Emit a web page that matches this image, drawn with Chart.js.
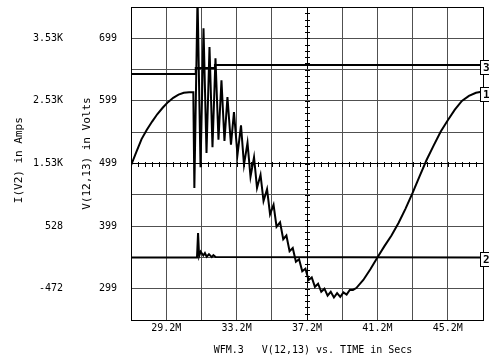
<!DOCTYPE html>
<html>
<head>
<meta charset="utf-8">
<script src="https://cdn.jsdelivr.net/npm/chart.js@4.4.1/dist/chart.umd.min.js"></script>
<style>
  html, body { margin: 0; padding: 0; background: #fff; }
  canvas { display: block; }
</style>
</head>
<body>
<canvas id="wfm" width="489" height="356"></canvas>
<script>
// ===== values (time in M, V(12,13) in Volts) =====
// trace 1: sine-like waveform with a ringing burst near 31M
const trace1Time = [
  27.2, 27.5, 27.8, 28.1, 28.4, 28.7, 29.0, 29.3, 29.6, 29.9, 30.2, 30.5, 30.74,
  30.80, 30.98, 31.15, 31.32, 31.49, 31.66, 31.83, 32.00, 32.17, 32.34,
  32.51, 32.68, 32.88, 33.05, 33.25, 33.45, 33.62, 33.82, 33.99, 34.19,
  34.36, 34.56, 34.73, 34.93, 35.10, 35.30, 35.47, 35.67,
  35.85, 36.03, 36.21, 36.39, 36.57, 36.75, 36.93, 37.11, 37.29, 37.47,
  37.65, 37.83, 38.01, 38.19, 38.37, 38.55, 38.73, 38.91, 39.09, 39.27,
  39.45, 39.63, 39.81,
  40.0, 40.4, 40.8, 41.2, 41.6, 42.0, 42.4, 42.8, 43.2, 43.6,
  44.0, 44.4, 44.8, 45.2, 45.6, 46.0, 46.4, 46.8, 47.2
];
const trace1Volts = [
  496, 517, 538, 553, 566, 578, 588, 597, 604, 609, 612, 613, 613,
  460, 765, 493, 715, 516, 685, 525, 667, 537, 632,
  535, 605, 529, 581, 513, 560, 497, 532, 478, 509,
  460, 481, 439, 458, 418, 433, 398, 405,
  378, 384, 359, 364, 342, 346, 327, 331, 313, 317,
  302, 307, 294, 299, 288, 294, 285, 292, 286, 293,
  289.5, 297, 297,
  300, 313, 330, 349, 367, 384, 404, 427, 452, 479,
  505, 528, 550, 568, 585, 599, 607, 612, 614
];

// trace 2: flat level with a short spike
const trace2Time = [27.2, 30.95, 31.01, 31.07, 31.16, 31.31, 31.40, 31.50, 31.63, 31.79, 31.88, 32.01, 47.2];
const trace2Volts = [349, 349, 388, 351, 358, 352, 356, 350, 354, 349.5, 352.5, 349.5, 349];

// trace 3: two small steps
const trace3Time = [27.2, 30.88, 30.88, 31.97, 31.97, 47.2];
const trace3Volts = [642, 642, 651.5, 651.5, 656.5, 656.5];

// axes
const xGrid = [27.2, 29.2, 31.2, 33.2, 35.2, 37.2, 39.2, 41.2, 43.2, 45.2, 47.2];
const xLabelled = [29.2, 33.2, 37.2, 41.2, 45.2];
const voltGrid = [249, 299, 349, 399, 449, 499, 549, 599, 649, 699, 749];
const voltLabelled = [299, 399, 499, 599, 699];
const ampTicks = [-472, 528, 1528, 2528, 3528];
const ampLabels = ['-472', '528', '1.53K', '2.53K', '3.53K'];

const toPoints = (ts, vs) => ts.map((t, i) => ({ x: t, y: vs[i] }));

const FONT = 'DejaVu Sans Mono';
Chart.defaults.font.family = FONT;
Chart.defaults.font.size = 10;
Chart.defaults.color = '#000';

const gridColor = ctx => {
  const v = ctx.tick ? ctx.tick.value : null;
  return (v === 499 || v === 249 || v === 749 || v === 37.2 || v === 27.2 || v === 47.2) ? '#000' : '#505050';
};

// fixed axis widths, no extra label padding above/below the plot
const fixWidth = w => s => { s.width = w; s.paddingTop = 0; s.paddingBottom = 0; };

// minor tick marks on the centre cross-hair (37.2M / 499V)
const crossTicks = {
  id: 'crossTicks',
  beforeDatasetsDraw(chart) {
    const { ctx, scales: { x, y } } = chart;
    const y0 = Math.round(y.getPixelForValue(499));
    const x0 = Math.round(x.getPixelForValue(37.2));
    ctx.save();
    ctx.strokeStyle = '#000';
    ctx.lineWidth = 1;
    ctx.beginPath();
    for (let i = 0; i <= 50; i++) {
      const px = Math.round(x.getPixelForValue(27.2 + i * 0.4)) + 0.5;
      ctx.moveTo(px, y0 - 2);
      ctx.lineTo(px, y0 + 3);
    }
    for (let i = 0; i <= 50; i++) {
      const py = Math.round(y.getPixelForValue(249 + i * 10)) + 0.5;
      ctx.moveTo(x0 - 2, py);
      ctx.lineTo(x0 + 3, py);
    }
    ctx.stroke();
    ctx.restore();
  }
};

// numbered tags at the right end of each trace
const traceTags = {
  id: 'traceTags',
  afterDatasetsDraw(chart) {
    const { ctx, chartArea, scales: { y } } = chart;
    chart.data.datasets.forEach(ds => {
      const last = ds.data[ds.data.length - 1];
      const py = Math.round(y.getPixelForValue(last.y)) + 2;
      const bx = chartArea.right - 3;
      ctx.save();
      ctx.fillStyle = '#fff';
      ctx.fillRect(bx, py - 7, 14, 14);
      ctx.strokeStyle = '#000';
      ctx.lineWidth = 1;
      ctx.strokeRect(bx + 0.5, py - 7 + 0.5, 14, 14);
      ctx.fillStyle = '#000';
      ctx.font = 'bold 11px "' + FONT + '"';
      ctx.textAlign = 'left';
      ctx.textBaseline = 'middle';
      ctx.fillText(ds.label, bx + 3, py + 1);
      ctx.restore();
    });
  }
};

new Chart(document.getElementById('wfm'), {
  type: 'line',
  data: {
    datasets: [
      { label: '1', data: toPoints(trace1Time, trace1Volts) },
      { label: '2', data: toPoints(trace2Time, trace2Volts) },
      { label: '3', data: toPoints(trace3Time, trace3Volts) }
    ]
  },
  options: {
    responsive: false,
    animation: false,
    events: [],
    layout: { padding: { top: 7, right: 6, bottom: 0, left: 0 } },
    plugins: { legend: { display: false }, tooltip: { enabled: false } },
    elements: {
      point: { radius: 0 },
      line: { tension: 0, borderWidth: 2, borderColor: '#000', fill: false }
    },
    scales: {
      x: {
        type: 'linear',
        min: 27.2,
        max: 47.2,
        afterBuildTicks: s => { s.ticks = xGrid.map(v => ({ value: v })); },
        afterFit: s => { s.height = 36; s.paddingLeft = 0; s.paddingRight = 0; },
        grid: { color: gridColor, drawTicks: false },
        border: { color: '#000' },
        ticks: {
          padding: 2,
          autoSkip: false,
          maxRotation: 0,
          callback: v => xLabelled.includes(v) ? v.toFixed(1) + 'M' : ''
        },
        title: {
          display: true,
          text: '  WFM.3   V(12,13) vs. TIME in Secs',
          padding: { top: 0, bottom: 0 }
        }
      },
      y: {
        position: 'left',
        weight: 1,
        min: 249,
        max: 749,
        afterBuildTicks: s => { s.ticks = voltGrid.map(v => ({ value: v })); },
        afterFit: fixWidth(61),
        grid: { color: gridColor, drawTicks: false },
        border: { color: '#000' },
        ticks: {
          padding: 14,
          autoSkip: false,
          callback: v => voltLabelled.includes(v) ? String(v) : ''
        },
        title: {
          display: true,
          text: '   V(12,13) in Volts',
          font: { size: 11 },
          padding: { top: 11, bottom: 0 }
        }
      },
      yA: {
        position: 'left',
        weight: 2,
        min: -972,
        max: 4028,
        afterBuildTicks: s => { s.ticks = ampTicks.map(v => ({ value: v })); },
        afterFit: fixWidth(70),
        grid: { display: false, drawTicks: false },
        border: { display: false },
        ticks: {
          padding: 7,
          autoSkip: false,
          callback: v => ampLabels[ampTicks.indexOf(v)]
        },
        title: {
          display: true,
          text: ' I(V2) in Amps',
          font: { size: 11 },
          padding: { top: 13, bottom: 0 }
        }
      }
    }
  },
  plugins: [crossTicks, traceTags]
});
</script>
</body>
</html>
